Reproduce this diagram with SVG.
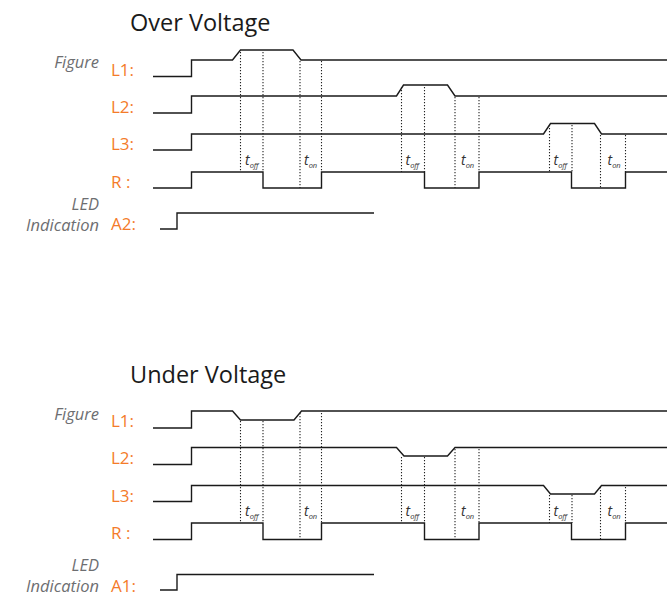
<svg xmlns="http://www.w3.org/2000/svg" width="667" height="597" viewBox="0 0 667 597">
<style>
.bg{fill:#ffffff}
.title{font-family:"Open Sans","Liberation Sans",sans-serif;font-size:23.5px;fill:#1a1a1a}
.lbl{font-family:"Open Sans","Liberation Sans",sans-serif;font-size:17px;fill:#f47b2a}
.side{font-family:"Open Sans","Liberation Sans",sans-serif;font-size:16.5px;font-style:italic;fill:#6d6e71;text-anchor:end}
.wave{fill:none;stroke:#1a1a1a;stroke-width:1.4}
.dot{fill:none;stroke:#222;stroke-width:1.1;stroke-dasharray:1.2 1.8}
.t{font-family:"Open Sans","Liberation Sans",sans-serif;font-style:italic;font-size:14px;fill:#333}
.sub{font-size:7.5px}
</style>
<rect class="bg" x="0" y="0" width="667" height="597"/>

<g id="over">
  <text class="title" x="130" y="31">Over Voltage</text>
  <g id="over-labels">
    <text class="side" x="99" y="68">Figure</text>
    <text class="lbl" x="111" y="76">L1:</text>
    <text class="lbl" x="111" y="113">L2:</text>
    <text class="lbl" x="111" y="150">L3:</text>
    <text class="lbl" x="111" y="188">R :</text>
    <text class="side" x="99" y="210">LED</text>
    <text class="side" x="99" y="231">Indication</text>
    <text class="lbl" x="111" y="230">A2:</text>
  </g>
  <g id="over-waves">
    <path id="over-L1" class="wave" d="M153,76.5 H191.5 V60 H232.5 L240.5,50 H293 L301,60 H667"/>
    <path id="over-L2" class="wave" d="M153,113 H191.5 V96 H396.5 L403.5,85 H447.5 L455,96 H667"/>
    <path id="over-L3" class="wave" d="M153,150 H191.5 V134 H543.5 L550.5,123.5 H594.5 L601.5,134 H667"/>
    <path id="over-R" class="wave" d="M153,188 H191.5 V172 H263 V188 H321.5 V172 H424.5 V188 H479 V172 H571.5 V188 H625.5 V172 H667"/>
    <path id="over-A2" class="wave" d="M160,229 H177 V213 H374"/>
  </g>
  <g id="over-dots">
    <path class="dot" d="M240.5,52 V172 M263,52 V172 M300,61 V188 M321.5,61 V172"/>
    <path class="dot" d="M401.5,87 V172 M424.5,87 V172 M455,97 V188 M479,97 V172"/>
    <path class="dot" d="M549.5,125 V172 M572,125 V172 M600.5,135 V188 M625.5,135 V172"/>
  </g>
  <g id="over-times">
    <text class="t" x="245" y="165">t<tspan class="sub" dy="3">off</tspan></text>
    <text class="t" x="304" y="165">t<tspan class="sub" dy="3">on</tspan></text>
    <text class="t" x="405.5" y="165">t<tspan class="sub" dy="3">off</tspan></text>
    <text class="t" x="461" y="165">t<tspan class="sub" dy="3">on</tspan></text>
    <text class="t" x="553.5" y="165">t<tspan class="sub" dy="3">off</tspan></text>
    <text class="t" x="607.5" y="165">t<tspan class="sub" dy="3">on</tspan></text>
  </g>
</g>

<g id="under">
  <text class="title" x="130" y="383">Under Voltage</text>
  <g id="under-labels">
    <text class="side" x="99" y="420">Figure</text>
    <text class="lbl" x="111" y="427">L1:</text>
    <text class="lbl" x="111" y="464">L2:</text>
    <text class="lbl" x="111" y="501.5">L3:</text>
    <text class="lbl" x="111" y="539">R :</text>
    <text class="side" x="99" y="571">LED</text>
    <text class="side" x="99" y="592">Indication</text>
    <text class="lbl" x="111" y="592">A1:</text>
  </g>
  <g id="under-waves">
    <path id="under-L1" class="wave" d="M153,428 H191.5 V411 H232.5 L240.5,420 H294 L301.5,411 H667"/>
    <path id="under-L2" class="wave" d="M153,464.5 H191.5 V447.5 H396.5 L404,456 H447.5 L455,447.5 H667"/>
    <path id="under-L3" class="wave" d="M153,501.5 H191.5 V485.5 H543.5 L550.5,494 H594.5 L601.5,485.5 H667"/>
    <path id="under-R" class="wave" d="M153,539.5 H191.5 V523 H263 V539.5 H321.5 V523 H424.5 V539.5 H479 V523 H571.5 V539.5 H625.5 V523 H667"/>
    <path id="under-A1" class="wave" d="M160,590 H177 V574.5 H374"/>
  </g>
  <g id="under-dots">
    <path class="dot" d="M240.5,421 V523 M263,421 V523 M300,413 V539.5 M321.5,413 V523"/>
    <path class="dot" d="M401.5,457 V523 M424.5,457 V523 M455,449 V539.5 M479,449 V523"/>
    <path class="dot" d="M549.5,495 V523 M572,495 V523 M600.5,487 V539.5 M625.5,487 V523"/>
  </g>
  <g id="under-times">
    <text class="t" x="245" y="516">t<tspan class="sub" dy="3">off</tspan></text>
    <text class="t" x="304" y="516">t<tspan class="sub" dy="3">on</tspan></text>
    <text class="t" x="405.5" y="516">t<tspan class="sub" dy="3">off</tspan></text>
    <text class="t" x="461" y="516">t<tspan class="sub" dy="3">on</tspan></text>
    <text class="t" x="553.5" y="516">t<tspan class="sub" dy="3">off</tspan></text>
    <text class="t" x="607.5" y="516">t<tspan class="sub" dy="3">on</tspan></text>
  </g>
</g>
</svg>
